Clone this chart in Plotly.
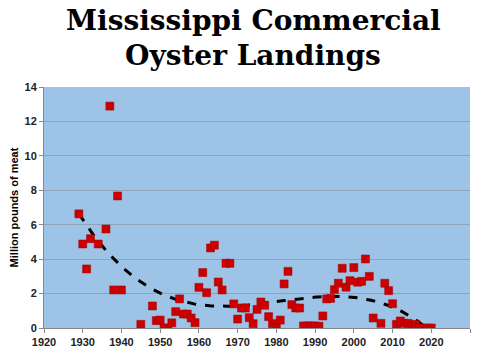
import numpy as np
import plotly.graph_objects as go

years = [1929, 1930, 1931, 1932, 1934, 1936, 1937, 1938, 1939, 1940,
         1945, 1948, 1949, 1950, 1951, 1952, 1953, 1954, 1955, 1956,
         1957, 1958, 1959, 1960, 1961, 1962, 1963, 1964, 1965, 1966,
         1967, 1968, 1969, 1970, 1971, 1972, 1973, 1974, 1975, 1976,
         1977, 1978, 1979, 1980, 1981, 1982, 1983, 1984, 1985, 1986,
         1987, 1988, 1989, 1990, 1991, 1992, 1993, 1994, 1995, 1996,
         1997, 1998, 1999, 2000, 2001, 2002, 2003, 2004, 2005, 2007,
         2008, 2009, 2010, 2011, 2012, 2013, 2014, 2015, 2016, 2017,
         2018, 2019, 2020]
landings = [6.63, 4.88, 3.43, 5.19, 4.88, 5.75, 12.89, 2.21, 7.67, 2.21,
            0.21, 1.28, 0.43, 0.46, 0.0, 0.0, 0.30, 0.95, 1.69, 0.81,
            0.81, 0.58, 0.31, 2.36, 3.22, 2.05, 4.65, 4.81, 2.67, 2.21,
            3.76, 3.76, 1.40, 0.52, 1.16, 1.16, 0.60, 0.25, 1.08, 1.51,
            1.32, 0.66, 0.25, 0.0, 0.46, 2.56, 3.29, 1.36, 1.16, 1.16,
            0.12, 0.12, 0.12, 0.12, 0.10, 0.70, 1.69, 1.72, 2.23, 2.60,
            3.47, 2.37, 2.75, 3.51, 2.66, 2.71, 4.01, 3.00, 0.58, 0.27,
            2.60, 2.17, 1.41, 0.21, 0.41, 0.27, 0.27, 0.12, 0.21, 0.0,
            0.0, 0.0, 0.0]

x_ticks = [1920, 1930, 1940, 1950, 1960, 1970, 1980, 1990, 2000, 2010, 2020, 2030]
y_ticks = [0, 2, 4, 6, 8, 10, 12, 14]
title_lines = ["Mississippi Commercial", "Oyster Landings"]

# polynomial trendline (like the spreadsheet's trendline) fitted from the data
yr = np.array(years, dtype=float)
val = np.array(landings, dtype=float)
coef = np.polyfit(yr - 1975.0, val, 3)
tx = np.linspace(yr.min(), yr.max(), 200)
ty = np.polyval(coef, tx - 1975.0)

fig = go.Figure()
fig.add_trace(go.Scatter(
    x=tx, y=ty, mode="lines",
    line=dict(color="black", width=3, dash="dash"),
    hoverinfo="skip", showlegend=False))
fig.add_trace(go.Scatter(
    x=years, y=landings, mode="markers",
    marker=dict(symbol="square", size=8, color="#cc0000",
                line=dict(color="#a00000", width=0.5)),
    showlegend=False))

for i, (line, ypos) in enumerate(zip(title_lines, [20, 55])):
    fig.add_annotation(
        text=line, xref="paper", yref="paper", x=0.5 - 4 / 426,
        y=1 + (87 - ypos) / 241, xanchor="center", yanchor="middle",
        showarrow=False,
        font=dict(family="DejaVu Serif", size=28, color="black", weight="bold"))

fig.update_layout(
    width=480, height=352,
    margin=dict(l=44, r=10, t=87, b=24),
    paper_bgcolor="white",
    plot_bgcolor="#9dc3e6",
    xaxis=dict(range=[1920, 2030], tickvals=x_ticks, showgrid=False,
               ticks="outside", ticklen=4, tickcolor="#888",
               showline=True, linecolor="#888", linewidth=1,
               tickfont=dict(family="Liberation Sans", size=11, color="#222", weight="bold"),
               zeroline=False, automargin=False),
    yaxis=dict(range=[0, 14], tickvals=y_ticks, showgrid=True,
               gridcolor="#8fa3b8", gridwidth=1,
               ticks="outside", ticklen=4, tickcolor="#888",
               showline=True, linecolor="#888", linewidth=1,
               tickfont=dict(family="Liberation Sans", size=11, color="#222", weight="bold"),
               title=dict(text="Million pounds of meat", standoff=3,
                          font=dict(family="Liberation Sans", size=11, color="black", weight="bold")),
               zeroline=False, automargin=False),
)

fig.write_html("out.html")
